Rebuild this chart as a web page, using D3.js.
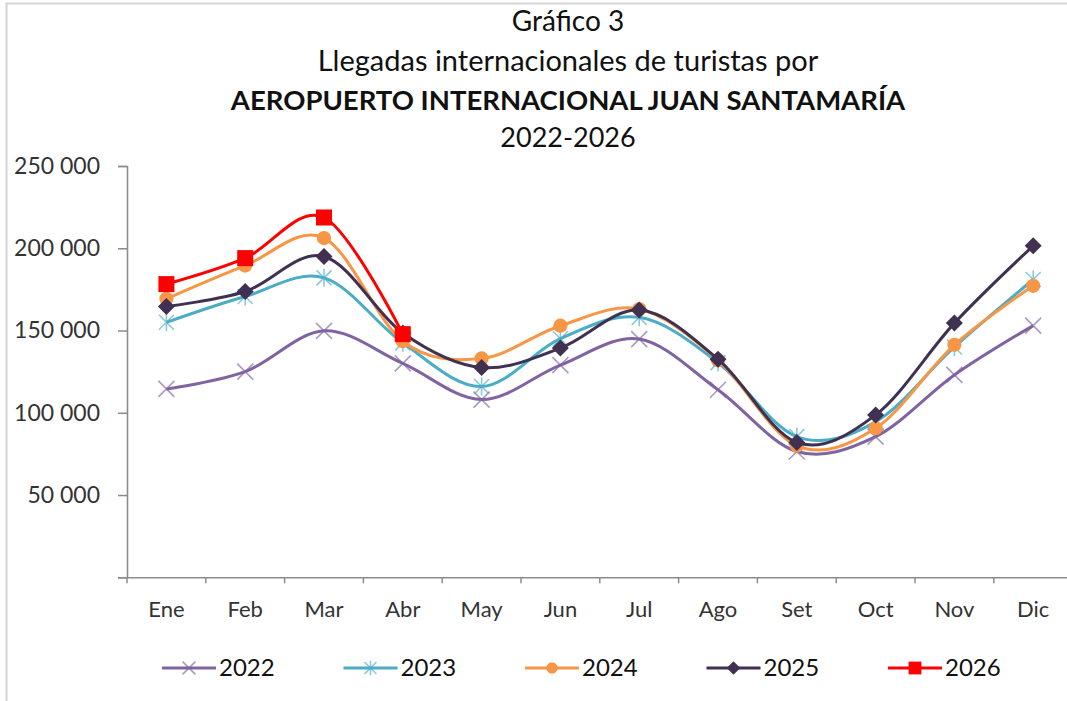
<!DOCTYPE html>
<html>
<head>
<meta charset="utf-8">
<script src="https://cdn.jsdelivr.net/npm/d3@7"></script>
<style>
    body { margin: 0; background: #fff; }
    svg { display: block; font-family: Lato, "Open Sans", sans-serif; }
</style>
</head>
<body>
<div id="graph"></div>
<script>
// Meses del eje X
const months = ["Ene", "Feb", "Mar", "Abr", "May", "Jun", "Jul", "Ago", "Set", "Oct", "Nov", "Dic"]
// Llegadas por mes, una lista por año
const v2022 = [114500, 125000, 149800, 130000, 108000, 129000, 144800, 114000, 76500, 85500, 123000, 153000]
const v2023 = [155000, 170700, 182000, 142500, 116000, 145000, 158000, 130500, 85500, 94500, 140000, 181000]
const v2024 = [169300, 189500, 206200, 143500, 133000, 152900, 163000, 132000, 80000, 90600, 141300, 177200]
const v2025 = [164600, 173700, 195000, 148500, 127500, 139300, 162400, 132600, 82000, 98700, 154500, 201500]
const v2026 = [178200, 194000, 218700, 147800]
// Marcas del eje Y
const yTicks = [0, 50000, 100000, 150000, 200000, 250000]

const titleLines = ["Gráfico 3", "Llegadas internacionales de turistas por", "AEROPUERTO INTERNACIONAL JUAN SANTAMARÍA", "2022-2026"]

const series = [
    { name: "2022", values: v2022, color: "#8064A2", marker: "x" },
    { name: "2023", values: v2023, color: "#4BACC6", marker: "star" },
    { name: "2024", values: v2024, color: "#F79646", marker: "circle" },
    { name: "2025", values: v2025, color: "#403152", marker: "diamond" },
    { name: "2026", values: v2026, color: "#FF0000", marker: "square" }
]

/* ------------------------------------------------------------------------------
    SVG
------------------------------------------------------------------------------ */
const W = 1067, H = 701
const svg = d3.select("#graph")
    .append("svg")
    .attr("width", W)
    .attr("height", H)

// Marco del gráfico (solo se ven los bordes izquierdo y superior)
svg.append("path")
    .attr("d", "M6.5," + H + "V3.5H" + W)
    .attr("fill", "none")
    .attr("stroke", "#d4d4d4")
    .attr("stroke-width", 2)

// Títulos
const titleY = [31, 71, 110, 147]
const titleSize = [28, 29, 27.5, 27]
titleLines.forEach((t, i) => {
    svg.append("text")
        .attr("x", 568)
        .attr("y", titleY[i])
        .attr("text-anchor", "middle")
        .attr("font-size", titleSize[i])
        .attr("font-weight", i == 2 ? "bold" : "normal")
        .attr("fill", "#111")
        .text(t)
})

/* ------------------------------------------------------------------------------
    ESCALAS
------------------------------------------------------------------------------ */
const x = d3.scaleBand()
    .domain(months)
    .range([127, 127 + 12 * 78.8])

const y = d3.scaleLinear()
    .domain([0, 250000])
    .range([577.3, 166])

const fmt = d => d3.format(",")(d).replace(/,/g, " ")

/* ------------------------------------------------------------------------------
    EJES
------------------------------------------------------------------------------ */
// Eje Y
const yAxis = svg.append("g")
    .attr("transform", "translate(127,0)")
    .call(d3.axisLeft(y).tickValues(yTicks).tickSize(9).tickPadding(18)
        .tickFormat(d => d == 0 ? "" : fmt(d)))

// Eje X
const xAxis = svg.append("g")
    .attr("transform", "translate(0,577.3)")
    .call(d3.axisBottom(x).tickSize(0).tickPadding(24))

// Marcas del eje X entre categorías
xAxis.selectAll(".sep")
    .data(months)
    .join("line")
    .attr("class", "sep")
    .attr("x1", d => x(d))
    .attr("x2", d => x(d))
    .attr("y1", 0)
    .attr("y2", 6)

svg.selectAll(".domain, .tick line, .sep")
    .attr("stroke", "#8c8c8c")
    .attr("stroke-width", 1.5)
svg.selectAll(".domain").attr("stroke-width", 1.6)

svg.selectAll(".tick text")
    .attr("font-family", "Lato, sans-serif")
    .attr("font-size", 22)
    .attr("fill", "#333")
yAxis.selectAll(".tick text").attr("font-size", 23)

/* ------------------------------------------------------------------------------
    MARCADORES
------------------------------------------------------------------------------ */
function drawMarker(g, type, color, s) {
    if (type == "x") {
        g.append("path")
            .attr("d", `M${-s},${-s}L${s},${s}M${-s},${s}L${s},${-s}`)
            .attr("stroke", color).attr("stroke-opacity", 0.65).attr("stroke-width", 1.6)
    } else if (type == "star") {
        g.append("path")
            .attr("d", `M${-s},${-s}L${s},${s}M${-s},${s}L${s},${-s}M0,${-s * 1.2}V${s * 1.2}`)
            .attr("stroke", color).attr("stroke-opacity", 0.65).attr("stroke-width", 1.6)
    } else if (type == "circle") {
        g.append("circle").attr("r", s * 0.95).attr("fill", color)
    } else if (type == "diamond") {
        g.append("path")
            .attr("d", `M0,${-s}L${s},0L0,${s}L${-s},0Z`)
            .attr("fill", color)
    } else {
        g.append("rect")
            .attr("x", -s).attr("y", -s).attr("width", 2 * s).attr("height", 2 * s)
            .attr("fill", color)
    }
}

/* ------------------------------------------------------------------------------
    LÍNEAS
------------------------------------------------------------------------------ */
const line = d3.line()
    .x((d, i) => x(months[i]) + x.bandwidth() / 2)
    .y(d => y(d))
    .curve(d3.curveCardinal.tension(0))

const markerSize = { x: 8, star: 7.5, circle: 7.5, diamond: 8.5, square: 8 }

series.forEach(s => {
    svg.append("path")
        .datum(s.values)
        .attr("fill", "none")
        .attr("stroke", s.color)
        .attr("stroke-width", 3)
        .attr("d", line)

    s.values.forEach((v, i) => {
        const g = svg.append("g")
            .attr("transform", "translate(" + (x(months[i]) + x.bandwidth() / 2) + "," + y(v) + ")")
        drawMarker(g, s.marker, s.color, markerSize[s.marker])
    })
})

/* ------------------------------------------------------------------------------
    LEYENDA
------------------------------------------------------------------------------ */
const legend = svg.append("g")
    .attr("transform", "translate(162,668)")

series.forEach((s, i) => {
    const item = legend.append("g")
        .attr("transform", "translate(" + i * 181.5 + ",0)")
    item.append("line")
        .attr("x1", 0).attr("x2", 54)
        .attr("stroke", s.color)
        .attr("stroke-width", 3)
    const m = item.append("g").attr("transform", "translate(27,0)")
    drawMarker(m, s.marker, s.color, markerSize[s.marker] * 0.8)
    item.append("text")
        .attr("x", 57)
        .attr("dy", "0.35em")
        .attr("font-size", 24)
        .attr("fill", "#111")
        .text(s.name)
})
</script>
</body>
</html>
